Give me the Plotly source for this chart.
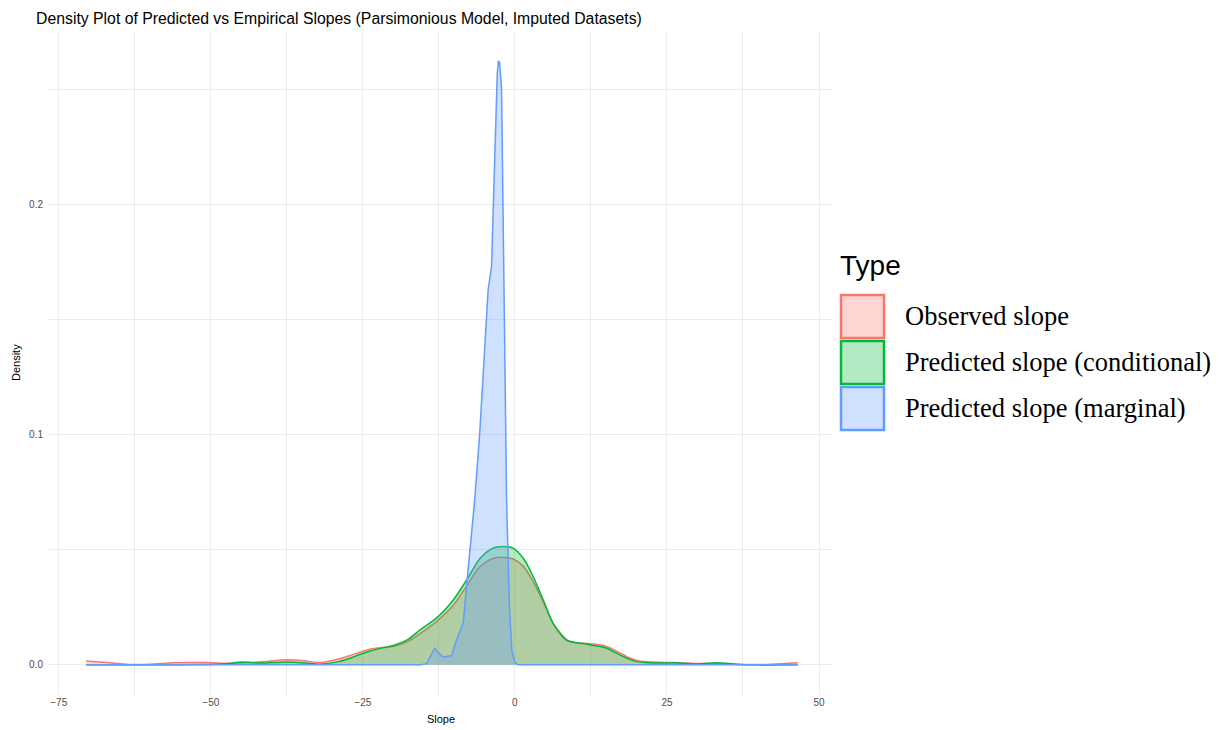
import plotly.graph_objects as go

# ---- data ----
types = ["Observed slope", "Predicted slope (conditional)", "Predicted slope (marginal)"]
line_colors = ["#F8766D", "#00BA38", "#619CFF"]
fill_colors = ["rgba(248,118,109,0.3)", "rgba(0,186,56,0.3)", "rgba(97,156,255,0.3)"]

obs_x = [-70.5, -67, -63.5, -60, -56, -51, -47, -44, -40.5, -37.5, -34.5, -32, -29, -27,
         -25.5, -23.8, -21.5, -20, -17.5, -15.6, -12.9, -10.1, -7.9, -5.8, -3.6, -1.9,
         -0.3, 1.4, 3.0, 4.65, 6.3, 8.5, 10, 11.8, 13.5, 15.1, 17.3, 18.7, 20.0, 22,
         23.8, 26.2, 29.8, 34.2, 38.6, 42.2, 46.5]
obs_y = [0.0017, 0.0010, 0.0002, 0.0003, 0.0009, 0.0010, 0.0007, 0.0009, 0.0016, 0.0022,
         0.0017, 0.0010, 0.0025, 0.0042, 0.0055, 0.0068, 0.0076, 0.0080, 0.0103, 0.0136,
         0.0188, 0.0260, 0.0344, 0.0425, 0.0462, 0.0467, 0.0460, 0.0428, 0.0362, 0.0275,
         0.0178, 0.0106, 0.0096, 0.0093, 0.0088, 0.0080, 0.0052, 0.0032, 0.0019, 0.0013,
         0.0011, 0.0010, 0.0006, 0.0004, 0.0001, 0.0003, 0.0009]

cond_x = [-70.5, -60, -52, -47.4, -45, -42, -39.8, -37.5, -34.5, -32, -29, -27, -25.5,
          -23.8, -21.5, -20, -17.5, -15.6, -12.9, -10.1, -7.9, -5.8, -3.6, -1.9, -0.3,
          1.4, 3.0, 4.65, 6.3, 8.5, 10, 11.8, 13.5, 15.1, 17.3, 18.7, 20.0, 22, 23.8,
          26.2, 29.8, 33.2, 36, 38.6, 46.5]
cond_y = [0.0000, 0.0000, 0.0001, 0.0005, 0.0012, 0.0008, 0.0010, 0.0012, 0.0008, 0.0003,
          0.0014, 0.0030, 0.0045, 0.0060, 0.0075, 0.0084, 0.0112, 0.0152, 0.0203, 0.0283,
          0.0370, 0.0460, 0.0507, 0.0514, 0.0507, 0.0462, 0.0384, 0.0283, 0.0180, 0.0109,
          0.0097, 0.0090, 0.0082, 0.0072, 0.0043, 0.0025, 0.0014, 0.0009, 0.0008, 0.0009,
          0.0004, 0.0009, 0.0004, 0.0000, 0.0000]

marg_x = [-70.5, -15.5, -14.5, -13.8, -13.2, -12.5, -11.8, -10.9, -10.4, -9.6, -8.5, -7.9,
          -7.1, -6.6, -5.8, -4.93, -4.4, -3.84, -3.56, -3.29, -2.9, -2.7, -2.5, -2.19, -2.03,
          -1.8, -1.64, -1.37, -0.9, -0.5, 0.0, 0.5, 46.5]
marg_y = [0.0, 0.0, 0.0005, 0.0040, 0.0072, 0.0050, 0.0033, 0.0038, 0.0040, 0.0109, 0.0180,
          0.0355, 0.0570, 0.0720, 0.1000, 0.1410, 0.1630, 0.1730, 0.1990, 0.2280, 0.2570,
          0.2625, 0.2615, 0.2500, 0.2140, 0.1700, 0.1410, 0.0720, 0.0250, 0.0060, 0.0010,
          0.0, 0.0]

x_ticks = [-75, -50, -25, 0, 25, 50]
y_ticks = [0.0, 0.1, 0.2]
y_tick_text = ["0.0", "0.1", "0.2"]

series_x = [obs_x, cond_x, marg_x]
series_y = [obs_y, cond_y, marg_y]
shapes_line = ["spline", "spline", "linear"]

fig = go.Figure()
for name, xs, ys, lc, fc, shp in zip(types, series_x, series_y, line_colors, fill_colors, shapes_line):
    fig.add_trace(go.Scatter(
        x=xs, y=ys, name=name, mode="lines", fill="tozeroy", fillcolor=fc,
        line=dict(color=lc, width=1.5, shape=shp, smoothing=0.8 if shp == "spline" else None),
        showlegend=False,
    ))

# layout geometry (pixels, in window coordinates; page body has an 8px default margin)
OFF = 8
WIN_W, WIN_H = 1223, 730
W, H = WIN_W - OFF, WIN_H - OFF
L, R, T, B = 49 - OFF, 833 - OFF, 32 - OFF, 695 - OFF

def px(x):
    return (x - OFF - L) / (R - L)

def py(y):
    return (B - (y - OFF)) / (B - T)

grid = "#EBEBEB"
fig.update_layout(
    width=W, height=H,
    paper_bgcolor="white", plot_bgcolor="white",
    margin=dict(l=L, r=W - R, t=T, b=H - B, pad=0, autoexpand=False),
    font=dict(family="Liberation Sans, Arial, sans-serif", color="#4D4D4D"),
    title=dict(text="Density Plot of Predicted vs Empirical Slopes (Parsimonious Model, Imputed Datasets)",
               x=(36 - OFF) / W, xref="container", xanchor="left",
               y=1 - (18 - OFF) / H, yref="container", yanchor="middle", pad=dict(l=0, r=0, t=0, b=0),
               font=dict(size=15.8, color="black", family="Liberation Sans, Arial, sans-serif")),
    xaxis=dict(range=[-76.6, 52.3], tickvals=x_ticks, showgrid=True, gridcolor=grid, gridwidth=1,
               zeroline=False, showline=False, ticks="", tickfont=dict(size=10, color="#4D4D4D"),
               automargin=False,
               title=dict(text="Slope", font=dict(size=11, color="black"), standoff=8),
               minor=dict(tick0=12.5, dtick=25, showgrid=True, gridcolor=grid, gridwidth=0.6),
               fixedrange=True),
    yaxis=dict(range=[-0.0131, 0.275], tickvals=y_ticks, ticktext=y_tick_text, showgrid=True,
               gridcolor=grid, gridwidth=1, zeroline=False, showline=False, ticks="",
               tickfont=dict(size=10, color="#4D4D4D"), automargin=False, ticklabelstandoff=5,
               minor=dict(tick0=0.05, dtick=0.1, showgrid=True, gridcolor=grid, gridwidth=0.6),
               fixedrange=True),
)

shapes = []
annotations = []
# y-axis title
annotations.append(dict(text="Density", x=px(16), y=py(363), xref="paper", yref="paper",
                        xanchor="center", yanchor="middle", textangle=-90, showarrow=False,
                        font=dict(size=11, color="black", family="Liberation Sans, Arial, sans-serif")))
# manual legend with large keys
annotations.append(dict(text="Type", x=px(838), y=py(265), xref="paper", yref="paper",
                        xanchor="left", yanchor="middle", showarrow=False,
                        font=dict(size=28, color="black", family="Liberation Sans, Arial, sans-serif")))
key_tops = [295, 341, 387]
for name, lc, fc, top in zip(types, line_colors, fill_colors, key_tops):
    shapes.append(dict(type="rect", xref="paper", yref="paper",
                       x0=px(841), x1=px(884), y0=py(top + 43), y1=py(top),
                       fillcolor=fc, line=dict(color=lc, width=2.5)))
    annotations.append(dict(text=name, x=px(903), y=py(top + 21), xref="paper", yref="paper",
                            xanchor="left", yanchor="middle", showarrow=False,
                            font=dict(size=26.5, color="black",
                                      family="Liberation Serif, Times New Roman, serif")))
fig.update_layout(shapes=shapes, annotations=annotations)

fig.write_html("out.html")
